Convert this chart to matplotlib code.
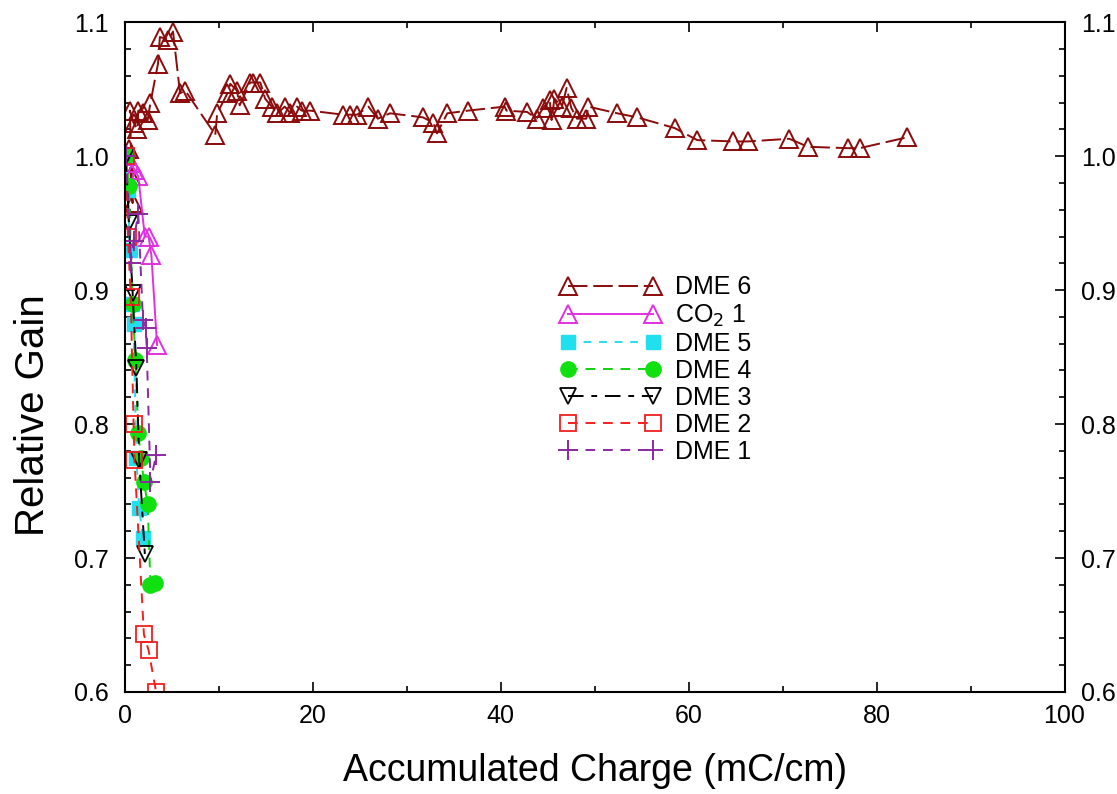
import numpy as np
import matplotlib
matplotlib.use("Agg")
import matplotlib.pyplot as plt

plt.rcParams['font.family'] = ['Liberation Sans', 'DejaVu Sans']

# DME 6
dme6_x = [0.1, 0.4, 0.6, 0.8, 0.5, 0.9, 1.3, 1.4, 1.9, 2.4, 2.7, 3.5, 3.7, 4.6, 5.1,
          5.85, 6.4, 9.6, 9.8, 10.9, 11.2, 11.9, 12.2, 13.3, 13.6, 14.4, 14.9, 15.6,
          16.2, 17.0, 17.6, 18.3, 18.8, 19.7, 23.2, 23.9, 24.7, 25.9, 26.9, 28.2,
          31.7, 32.8, 33.2, 34.3, 36.5, 40.4, 40.6, 42.8, 43.8, 44.5, 45.2, 45.4,
          45.7, 46.5, 47.0, 47.5, 48.1, 49.1, 49.3, 52.4, 54.5, 58.5, 60.9, 64.7,
          66.3, 70.7, 72.7, 76.9, 78.2, 83.2]
dme6_y = [1.000, 1.005, 0.985, 0.965, 1.034, 1.025, 1.020, 1.034, 1.032, 1.027, 1.040,
          1.069, 1.089, 1.087, 1.093, 1.047, 1.049, 1.016, 1.032, 1.047, 1.054, 1.049,
          1.038, 1.055, 1.055, 1.055, 1.043, 1.037, 1.032, 1.037, 1.032, 1.037, 1.034,
          1.034, 1.031, 1.031, 1.031, 1.037, 1.028, 1.032, 1.029, 1.025, 1.017, 1.032,
          1.034, 1.037, 1.034, 1.033, 1.028, 1.036, 1.042, 1.027, 1.043, 1.037, 1.051,
          1.036, 1.028, 1.028, 1.037, 1.032, 1.029, 1.021, 1.012, 1.011, 1.011, 1.013,
          1.007, 1.006, 1.006, 1.014]

# CO2 1
co2_x = [0.2, 0.6, 1.0, 1.4, 2.1, 2.5, 2.8, 3.4]
co2_y = [1.000, 0.995, 0.990, 0.985, 0.940, 0.940, 0.926, 0.859]

# DME 5
dme5_x = [0.1, 0.3, 0.5, 0.7, 0.9, 1.2, 1.5, 1.9]
dme5_y = [1.000, 0.975, 0.930, 0.890, 0.875, 0.775, 0.737, 0.715]

# DME 4
dme4_x = [0.1, 0.4, 0.8, 1.1, 1.4, 1.7, 2.0, 2.4, 2.7, 3.2]
dme4_y = [1.000, 0.978, 0.890, 0.848, 0.793, 0.775, 0.757, 0.740, 0.680, 0.681]

# DME 3
dme3_x = [0.1, 0.4, 0.8, 1.2, 1.5, 2.1]
dme3_y = [1.000, 0.950, 0.898, 0.842, 0.773, 0.703]

# DME 2
dme2_x = [0.1, 0.3, 0.6, 0.9, 1.0, 2.0, 2.5, 3.3]
dme2_y = [1.000, 0.940, 0.895, 0.800, 0.773, 0.643, 0.631, 0.600]

# DME 1
dme1_x = [0.1, 0.6, 0.9, 1.4, 1.9, 2.2, 2.3, 2.7, 3.3]
dme1_y = [1.000, 0.920, 0.937, 0.957, 0.878, 0.872, 0.857, 0.757, 0.777]

fig = plt.figure(figsize=(11.17, 7.94), dpi=100)
ax = fig.add_axes([0.112, 0.1285, 0.841, 0.8435])

lw = 1.4
ax.plot(dme6_x, dme6_y, color='#8b0a0a', ls=(0, (10, 3)), lw=lw, marker='^',
        ms=13, mfc='none', mec='#8b0a0a', mew=1.4, label='DME 6')
ax.plot(co2_x, co2_y, color='#e030e0', ls='-', lw=lw, marker='^',
        ms=13, mfc='none', mec='#e030e0', mew=1.4, label='CO$_2$ 1')
ax.plot(dme5_x, dme5_y, color='#20e0f0', ls=(0, (4, 4)), lw=lw, marker='s',
        ms=10, mfc='#20e0f0', mec='#20e0f0', label='DME 5')
ax.plot(dme4_x, dme4_y, color='#10d010', ls=(0, (5, 4)), lw=lw, marker='o',
        ms=11, mfc='#10e010', mec='#10e010', label='DME 4')
ax.plot(dme3_x, dme3_y, color='black', ls=(0, (8, 4, 3, 4)), lw=lw, marker='v',
        ms=11, mfc='none', mec='black', mew=1.3, label='DME 3')
ax.plot(dme2_x, dme2_y, color='#f02020', ls=(0, (5, 4)), lw=lw, marker='s',
        ms=12, mfc='none', mec='#f02020', mew=1.3, label='DME 2')
ax.plot(dme1_x, dme1_y, color='#8a2aa0', ls=(0, (5, 4)), lw=lw, marker='+',
        ms=14, mew=1.4, label='DME 1')

ax.set_xlim(0, 100)
ax.set_ylim(0.6, 1.1)
ax.set_xticks(np.arange(0, 101, 20))
ax.set_xticks(np.arange(0, 101, 10), minor=True)
ax.set_yticks(np.arange(0.6, 1.101, 0.1))
ax.set_yticks(np.arange(0.6, 1.101, 0.02), minor=True)
ax.set_yticklabels(['0.6', '0.7', '0.8', '0.9', '1.0', '1.1'])
ax.tick_params(which='both', direction='in', top=True, right=True,
               labelright=True, width=1.2)
ax.tick_params(which='major', length=7, labelsize=18)
ax.tick_params(which='minor', length=4)
ax.tick_params(axis='y', which='major', pad=12)
ax.tick_params(axis='x', which='major', pad=9)
for s in ax.spines.values():
    s.set_linewidth(1.5)

ax.set_xlabel('Accumulated Charge (mC/cm)', fontsize=27, labelpad=18)
ax.set_ylabel('Relative Gain', fontsize=29, labelpad=22)
ax.yaxis.set_label_coords(-0.078, 0.413)

ax.legend(loc='upper left', bbox_to_anchor=(0.463, 0.622), frameon=False,
          numpoints=2, handlelength=4.0, handletextpad=0.6, labelspacing=0.12,
          borderpad=0, borderaxespad=0, fontsize=18)

fig.savefig('out.png', dpi=100)
